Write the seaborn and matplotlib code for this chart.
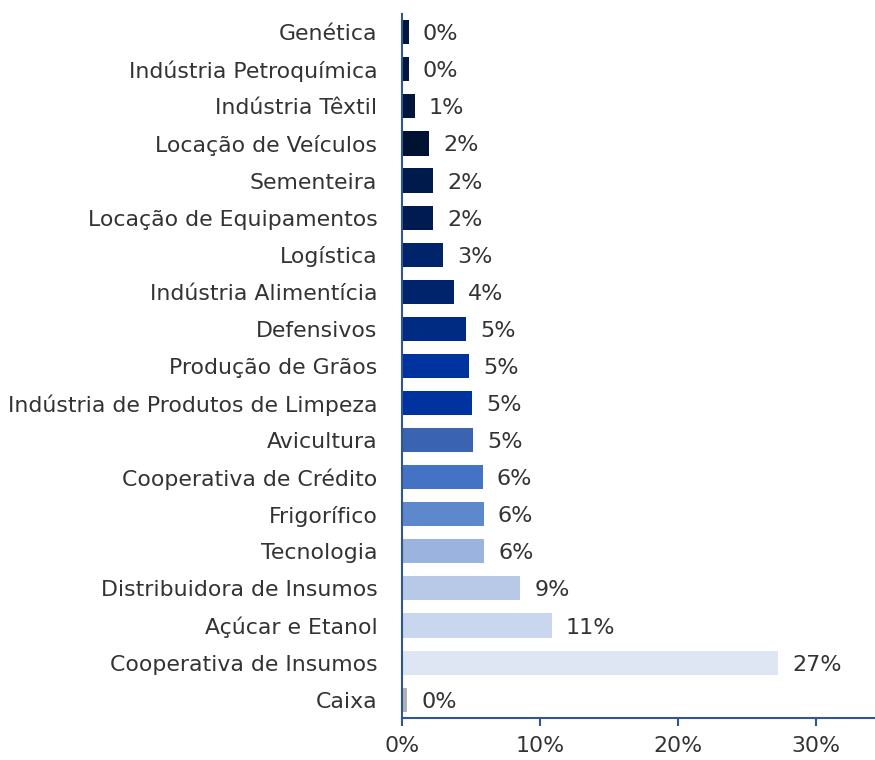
import matplotlib
matplotlib.use("Agg")
import matplotlib.pyplot as plt
import pandas as pd
import seaborn as sns
from matplotlib.ticker import FuncFormatter

categories = [
    "Genética", "Indústria Petroquímica", "Indústria Têxtil", "Locação de Veículos",
    "Sementeira", "Locação de Equipamentos", "Logística", "Indústria Alimentícia",
    "Defensivos", "Produção de Grãos", "Indústria de Produtos de Limpeza", "Avicultura",
    "Cooperativa de Crédito", "Frigorífico", "Tecnologia", "Distribuidora de Insumos",
    "Açúcar e Etanol", "Cooperativa de Insumos", "Caixa",
]
values = [0.5, 0.5, 0.95, 2.0, 2.3, 2.3, 3.0, 3.8, 4.7, 4.9, 5.1, 5.2,
          5.9, 5.95, 6.0, 8.6, 10.9, 27.3, 0.4]
value_labels = ["0%", "0%", "1%", "2%", "2%", "2%", "3%", "4%", "5%", "5%", "5%", "5%",
                "6%", "6%", "6%", "9%", "11%", "27%", "0%"]
colors = ["#04173a", "#04173a", "#02153a", "#001232", "#001a4c", "#001b52", "#00246c",
          "#00246c", "#002b82", "#0033a0", "#0033a0", "#3a64b2", "#4472c4", "#5e88cc",
          "#9bb3df", "#b8c9e8", "#c8d6ee", "#dee6f3", "#b2b2b2"]

df = pd.DataFrame({"setor": categories, "valor": values})

sns.set_style("white")
plt.rcParams["font.family"] = ["DejaVu Sans"]

fig = plt.figure(figsize=(8.75, 7.6), dpi=100)
ax = fig.add_axes([0.459, 0.055, 0.541, 0.927])

sns.barplot(data=df, x="valor", y="setor", hue="setor", palette=colors,
            orient="h", width=0.65, saturation=1, linewidth=0, legend=False, ax=ax)

# value labels next to each bar
for i, (v, lab) in enumerate(zip(values, value_labels)):
    ax.annotate(lab, (v, i), xytext=(10, 0), textcoords="offset points",
                ha="left", va="center_baseline", fontsize=16, color="#333333")

axis_blue = "#2f5597"
ax.set_xlim(0, 34.3)
ax.set_ylim(18.5, -0.5)
ax.set_xticks([0, 10, 20, 30])
ax.xaxis.set_major_formatter(FuncFormatter(lambda v, p: f"{v:.0f}%"))
ax.set_xlabel("")
ax.set_ylabel("")
for s in ["top", "right"]:
    ax.spines[s].set_visible(False)
for s in ["left", "bottom"]:
    ax.spines[s].set_color(axis_blue)
    ax.spines[s].set_linewidth(1.5)
ax.tick_params(axis="x", bottom=True, length=6, width=1.5, color=axis_blue,
               labelsize=15.8, labelcolor="#333333", pad=7)
ax.tick_params(axis="y", left=False, labelsize=15.8, labelcolor="#333333", pad=14)

fig.savefig("out.png", dpi=100)
